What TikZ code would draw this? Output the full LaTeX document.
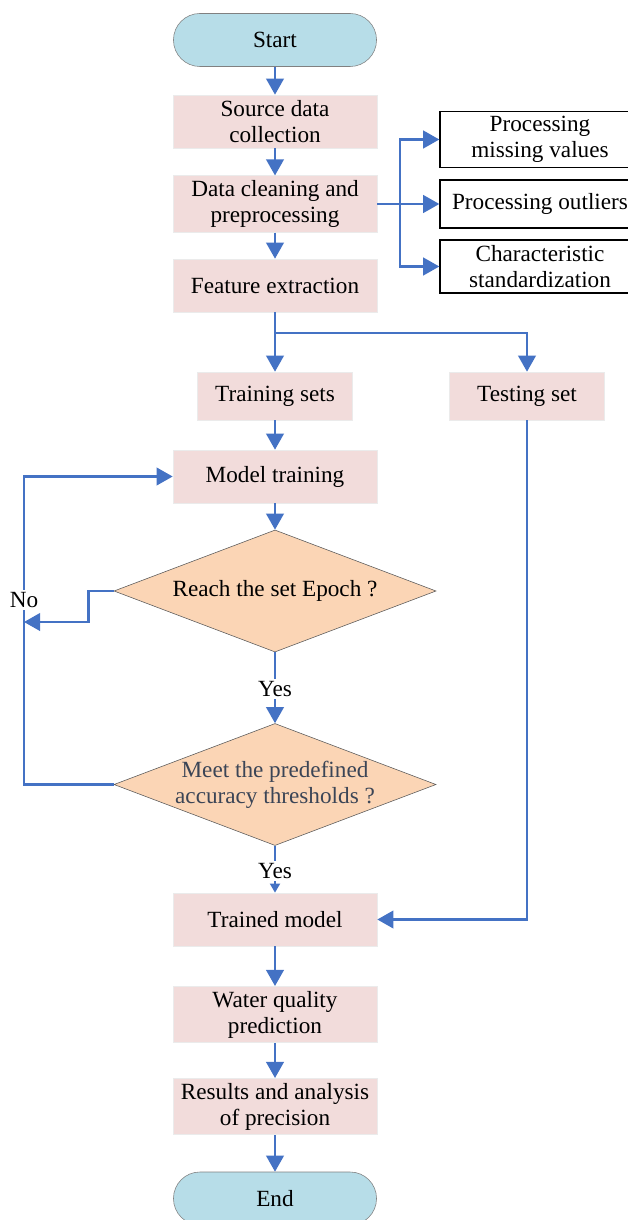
\documentclass[tikz,border=0pt]{standalone}
\usepackage{fontspec}
\setmainfont{Liberation Serif}
\usetikzlibrary{arrows.meta,shapes.geometric}

\definecolor{flowblue}{HTML}{4472C4}
\definecolor{termfill}{HTML}{B7DDE8}
\definecolor{boxfill}{HTML}{F2DCDB}
\definecolor{decfill}{HTML}{FBD5B5}
\definecolor{slate}{HTML}{3B4556}

\tikzset{
  term/.style={draw=black!50, fill=termfill, rounded corners=0.66cm, minimum width=5.075cm, minimum height=1.325cm},
  procbox/.style={draw=black!8, fill=boxfill, minimum width=5.1cm, minimum height=1.325cm, align=center},
  setbox/.style={procbox, minimum width=3.875cm, minimum height=1.2cm},
  sidebox/.style={draw, line width=0.9pt, minimum width=5cm, minimum height=1.325cm, align=center},
  decision/.style={diamond, draw=black!65, fill=decfill, inner sep=0pt, minimum width=8.05cm, minimum height=3.05cm},
  flow/.style={draw=flowblue, line width=1.8pt},
  arr/.style={flow, -{Triangle[length=11.5pt,width=12.5pt]}},
  smallarr/.style={flow, -{Triangle[length=6.5pt,width=7pt]}},
  tag/.style={inner sep=1.5pt},
}

\begin{document}
\begin{tikzpicture}[x=0.025cm, y=-0.025cm, font=\fontsize{16.5pt}{18.5pt}\selectfont]
    \useasboundingbox (0,0) rectangle (627,1220);

    \node[term] (start) at (275,40) {Start};
    \node[procbox] (src) at (275,121.5) {Source data\\collection};
    \node[procbox] (clean) at (275,204) {Data cleaning and\\preprocessing};
    \node[procbox] (feat) at (275,285.5) {Feature extraction};

    \node[sidebox] (miss) at (540,139.5) {Processing\\missing values};
    \node[sidebox, minimum height=1.2cm] (outl) at (540,204) {Processing outliers};
    \node[sidebox] (stdz) at (540,266.5) {Characteristic\\standardization};

    \node[setbox] (train) at (275,396) {Training sets};
    \node[setbox] (test) at (527,396) {Testing set};
    \node[procbox] (mt) at (275,476.5) {Model training};

    \node[decision, label={center:Reach the set Epoch ?}] (d1) at (275,591) {};
    \node[tag] (yes1) at (275,689) {Yes};
    \node[decision, label={[align=center, text=slate]center:Meet the predefined\\accuracy thresholds ?}] (d2) at (275,784.5) {};
    \node[tag] (yes2) at (275,871) {Yes};
    \node[tag] (no) at (24,600) {No};

    \node[procbox] (tm) at (275,919.5) {Trained model};
    \node[procbox] (wq) at (275,1014.5) {Water quality\\prediction};
    \node[procbox] (res) at (275,1106.5) {Results and analysis\\of precision};
    \node[term] (end) at (275,1198.5) {End};

    \coordinate (fork) at (400,204);
    \coordinate (split) at (275,333);
    \coordinate (noin) at (24,622);

    % main line
    \draw[arr] (start) -- (src);
    \draw[arr] (src) -- (clean);
    \draw[arr] (clean) -- (feat);
    \draw[arr] (feat) -- (train);
    \draw[arr] (split) -| (test.north);
    \draw[arr] (train) -- (mt);
    \draw[arr] (mt) -- (d1.north);
    \draw[flow] (d1.south) -- (yes1);
    \draw[arr] (yes1) -- (d2.north);
    \draw[flow] (d2.south) -- (yes2);
    \draw[smallarr] (yes2) -- (tm);
    \draw[arr] (tm) -- (wq);
    \draw[arr] (wq) -- (res);
    \draw[arr] (res) -- (end);

    % preprocessing branch
    \draw[arr] (clean.east) -- (outl.west);
    \draw[arr] (fork) |- (miss.west);
    \draw[arr] (fork) |- (stdz.west);

    % loops back
    \draw[arr] (d1.west) -- ++(-25,0) |- (noin);
    \draw[flow] (d2.west) -| (no.south);
    \draw[arr] (no.north) |- (mt.west);
    \draw[arr] (test.south) |- (tm.east);
\end{tikzpicture}
\end{document}
